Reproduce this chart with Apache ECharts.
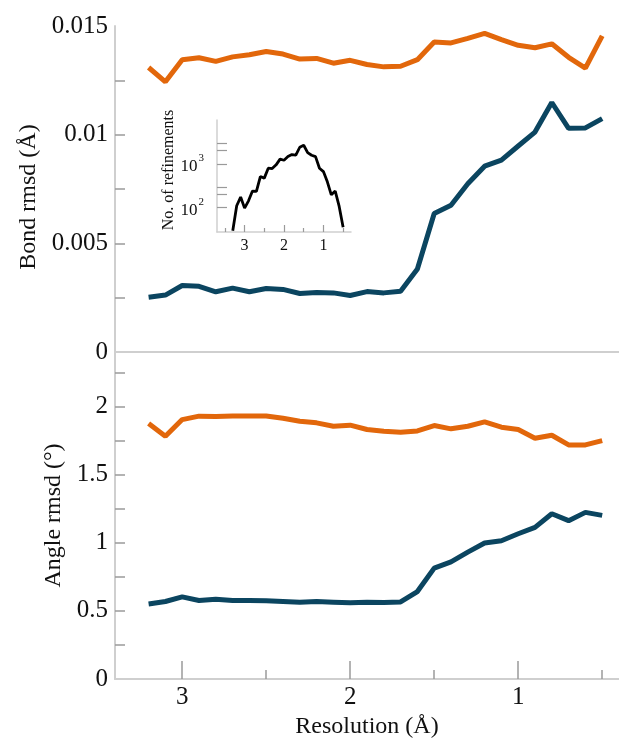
<!DOCTYPE html>
<html>
<head>
<meta charset="utf-8">
<script src="https://cdn.jsdelivr.net/npm/echarts@6/dist/echarts.min.js"></script>
<style>html,body{margin:0;padding:0;background:#fff}#c{width:619px;height:747px}</style>
</head>
<body>
<div id="c"></div>
<script>
// Resolution bins (Å)
const resolution = [3.2,3.1,3.0,2.9,2.8,2.7,2.6,2.5,2.4,2.3,2.2,2.1,2.0,1.9,1.8,1.7,1.6,1.5,1.4,1.3,1.2,1.1,1.0,0.9,0.8,0.7,0.6,0.5];
// Bond rmsd (Å)
const bondOrange = [0.01309,0.01243,0.01345,0.01354,0.01337,0.01358,0.01368,0.01383,0.01371,0.01348,0.01351,0.01329,0.01342,0.01323,0.01312,0.01315,0.01345,0.01426,0.01422,0.01443,0.01466,0.01437,0.01411,0.01400,0.01418,0.01356,0.01306,0.01455];
const bondBlue = [0.00252,0.00262,0.00306,0.00302,0.00277,0.00294,0.00277,0.00292,0.00288,0.00269,0.00274,0.00272,0.00260,0.00278,0.00272,0.00280,0.00382,0.00637,0.00675,0.00774,0.00855,0.00883,0.00948,0.01012,0.01148,0.01029,0.01031,0.01074];
// Angle rmsd (°)
const angleOrange = [1.875,1.782,1.904,1.929,1.926,1.931,1.931,1.931,1.914,1.892,1.880,1.855,1.863,1.831,1.819,1.811,1.821,1.860,1.836,1.855,1.887,1.848,1.831,1.767,1.789,1.718,1.718,1.750];
const angleBlue = [0.551,0.569,0.603,0.576,0.586,0.576,0.576,0.574,0.569,0.564,0.569,0.564,0.559,0.564,0.561,0.566,0.642,0.814,0.860,0.931,0.998,1.015,1.066,1.113,1.213,1.162,1.223,1.201];
// Inset: number of refinements per resolution bin
const insetRes = [3.3,3.2,3.1,3.0,2.9,2.8,2.7,2.6,2.5,2.4,2.3,2.2,2.1,2.0,1.9,1.8,1.7,1.6,1.5,1.4,1.3,1.2,1.1,1.0,0.9,0.8,0.7,0.6,0.5];
const insetCounts = [30,111,175,98,144,240,235,514,473,797,780,950,1280,1210,1466,1627,1575,2393,2660,1808,1575,1466,797,668,390,197,240,107,36];
// Tick labels
const xTickLabels = [3,2,1];
const xMinorTicks = [2.5,1.5,0.5];
const bondTickLabels = [0,0.005,0.01,0.015];
const bondTicks = [0.0025,0.005,0.0075,0.01,0.0125];
const angleTickLabels = [0,0.5,1,1.5,2];
const angleTicks = [0.25,0.5,0.75,1,1.25,1.5,1.75,2,2.25];
const insetXMinor = [3.5,2.5,1.5,0.5];
const insetYTicks = [100,200,300,1000,2000,3000];
const insetYLabels = [100,1000];

const FONT = '"Liberation Serif","Times New Roman",serif';
const AXIS_COLOR = '#cfcfcf';
const TICK_COLOR = '#9a9a9a';
const ORANGE = '#e2670b';
const BLUE = '#0b4560';

const pairs = (xs, ys) => xs.map((x, i) => [x, ys[i]]);

const chart = echarts.init(document.getElementById('c'), null, {renderer: 'canvas'});
const lineAxis = {show: true, onZero: false, lineStyle: {color: AXIS_COLOR, width: 2}};

const option = {
  animation: false,
  backgroundColor: '#fff',
  textStyle: {fontFamily: FONT},
  grid: [
    {left: 115, top: 26, width: 506, height: 326},
    {left: 115, top: 352, width: 506, height: 327},
    {left: 217, top: 120, width: 134, height: 112}
  ],
  xAxis: [
    {gridIndex: 0, type: 'value', inverse: true, min: 0.4, max: 3.4, position: 'bottom',
     axisLine: lineAxis, axisTick: {show: false}, axisLabel: {show: false}, splitLine: {show: false}},
    {gridIndex: 1, type: 'value', inverse: true, min: 0.4, max: 3.4, position: 'bottom',
     axisLine: lineAxis,
     axisTick: {show: true, inside: true, length: 18, customValues: xTickLabels, lineStyle: {color: TICK_COLOR, width: 1.5}},
     axisLabel: {customValues: xTickLabels, fontSize: 25, color: '#111', fontFamily: FONT, margin: 6},
     splitLine: {show: false},
     name: 'Resolution (Å)', nameLocation: 'middle', nameGap: 36,
     nameTextStyle: {fontSize: 24, color: '#111', fontFamily: FONT}},
    {gridIndex: 1, type: 'value', inverse: true, min: 0.4, max: 3.4, position: 'bottom',
     axisLine: {show: false, onZero: false},
     axisTick: {show: true, inside: true, length: 9, customValues: xMinorTicks, lineStyle: {color: TICK_COLOR, width: 1.5}},
     axisLabel: {show: false}, splitLine: {show: false}},
    {gridIndex: 2, type: 'value', inverse: true, min: 0.3, max: 3.7, position: 'bottom',
     axisLine: {show: true, onZero: false, lineStyle: {color: AXIS_COLOR, width: 1.5}},
     axisTick: {show: true, inside: true, length: 7, customValues: xTickLabels, lineStyle: {color: TICK_COLOR, width: 1.2}},
     axisLabel: {customValues: xTickLabels, fontSize: 16, color: '#111', fontFamily: FONT, margin: 6},
     splitLine: {show: false}},
    {gridIndex: 2, type: 'value', inverse: true, min: 0.3, max: 3.7, position: 'bottom',
     axisLine: {show: false, onZero: false},
     axisTick: {show: true, inside: true, length: 4, customValues: insetXMinor, lineStyle: {color: TICK_COLOR, width: 1.2}},
     axisLabel: {show: false}, splitLine: {show: false}}
  ],
  yAxis: [
    {gridIndex: 0, type: 'value', min: 0, max: 0.015, interval: 0.005, position: 'left',
     axisLine: lineAxis,
     axisTick: {show: true, inside: true, length: 10, customValues: bondTicks, lineStyle: {color: TICK_COLOR, width: 1.5}},
     axisLabel: {customValues: bondTickLabels, fontSize: 25, color: '#111', fontFamily: FONT, margin: 7,
                 formatter: v => String(Number(Number(v).toFixed(4)))},
     splitLine: {show: false},
     name: 'Bond rmsd (Å)', nameLocation: 'middle', nameGap: 73,
     nameTextStyle: {fontSize: 24, color: '#111', fontFamily: FONT, padding: [0, 16, 0, 0]}},
    {gridIndex: 1, type: 'value', min: 0, max: 2.4, position: 'left',
     axisLine: lineAxis,
     axisTick: {show: true, inside: true, length: 10, customValues: angleTicks, lineStyle: {color: TICK_COLOR, width: 1.5}},
     axisLabel: {customValues: angleTickLabels, fontSize: 25, color: '#111', fontFamily: FONT, margin: 7,
                 formatter: v => String(Number(Number(v).toFixed(2)))},
     splitLine: {show: false},
     name: 'Angle rmsd (°)', nameLocation: 'middle', nameGap: 48,
     nameTextStyle: {fontSize: 24, color: '#111', fontFamily: FONT}},
    {gridIndex: 2, type: 'log', logBase: 10, min: 28, max: 10000, position: 'left',
     axisLine: {show: true, onZero: false, lineStyle: {color: AXIS_COLOR, width: 1.5}},
     axisTick: {show: true, inside: true, length: 10, customValues: insetYTicks, lineStyle: {color: TICK_COLOR, width: 1.2}},
     axisLabel: {customValues: insetYLabels, margin: 13, fontFamily: FONT,
                 formatter: v => '{b|10}{s|' + Math.round(Math.log10(v)) + '}',
                 rich: {
                   b: {fontSize: 17, color: '#111', fontFamily: FONT, lineHeight: 22, verticalAlign: 'bottom'},
                   s: {fontSize: 11, color: '#111', fontFamily: FONT, verticalAlign: 'top', padding: [0, 0, 0, 1]}
                 }},
     splitLine: {show: false},
     name: 'No. of refinements', nameLocation: 'middle', nameGap: 28,
     nameTextStyle: {fontSize: 16, color: '#111', fontFamily: FONT, padding: [0, 0, 0, 12]}}
  ],
  series: [
    {type: 'line', name: 'Bond (orange)', xAxisIndex: 0, yAxisIndex: 0, data: pairs(resolution, bondOrange),
     showSymbol: false, lineStyle: {color: ORANGE, width: 5}, itemStyle: {color: ORANGE}},
    {type: 'line', name: 'Bond (blue)', xAxisIndex: 0, yAxisIndex: 0, data: pairs(resolution, bondBlue),
     showSymbol: false, lineStyle: {color: BLUE, width: 5}, itemStyle: {color: BLUE}},
    {type: 'line', name: 'Angle (orange)', xAxisIndex: 1, yAxisIndex: 1, data: pairs(resolution, angleOrange),
     showSymbol: false, lineStyle: {color: ORANGE, width: 5}, itemStyle: {color: ORANGE}},
    {type: 'line', name: 'Angle (blue)', xAxisIndex: 1, yAxisIndex: 1, data: pairs(resolution, angleBlue),
     showSymbol: false, lineStyle: {color: BLUE, width: 5}, itemStyle: {color: BLUE}},
    {type: 'line', name: 'Refinements', xAxisIndex: 3, yAxisIndex: 2, data: pairs(insetRes, insetCounts),
     showSymbol: false, clip: true, lineStyle: {color: '#000', width: 2.8}, itemStyle: {color: '#000'}}
  ]
};
chart.setOption(option);
</script>
</body>
</html>
